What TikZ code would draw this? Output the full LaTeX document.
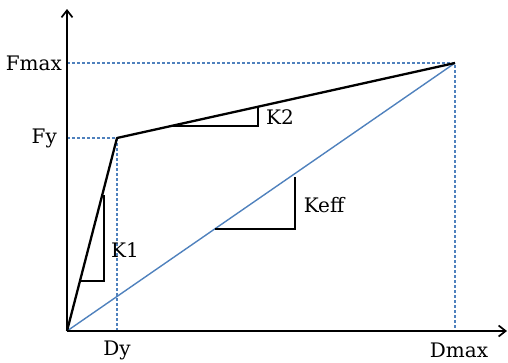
\documentclass[tikz,border=0pt]{standalone}
\usepackage{fontspec}
\setmainfont{DejaVu Serif}
\usetikzlibrary{arrows.meta, calc, positioning}
\definecolor{effblue}{RGB}{79, 129, 189}
\tikzstyle{axis} = [-{Straight Barb[length=7pt, width=11pt]}, line width=1.7pt]
\tikzstyle{curve} = [line width=2.3pt, line join=round]
\tikzstyle{secant} = [draw=effblue, line width=1.4pt]
\tikzstyle{guide} = [draw=effblue, line width=1.3pt, dash pattern=on 3pt off 2pt]
\tikzstyle{slope} = [line width=1.1pt]
\tikzstyle{lbl} = [font=\fontsize{20}{24}\selectfont, inner sep=0pt]

\begin{document}
\begin{tikzpicture}[x=1pt, y=-1pt]
    \useasboundingbox (0,0) rectangle (508,362);

    % Key points
    \coordinate (O) at (67,331);
    \coordinate (yield) at (117,138);
    \coordinate (peak) at (455,63);
    \coordinate (xend) at (507,331);
    \coordinate (yend) at (67,9);

    % Guide lines
    \draw[guide] (O |- peak) -- (peak) -- (peak |- O);
    \draw[guide] (O |- yield) -- (yield) -- (yield |- O);

    % Effective stiffness
    \draw[secant] (O) -- (peak);

    % Axes
    \draw[axis] (O) -- (xend);
    \draw[axis] (O) -- (yend);

    % Bilinear curve
    \draw[curve] (O) -- (yield) -- (peak);

    % Slope triangles
    \coordinate (k1a) at (80,281);
    \coordinate (k1b) at (104,281);
    \coordinate (k1c) at (104,195);
    \draw[slope] (k1a) -- (k1b) -- (k1c);
    \coordinate (k2a) at (171,126);
    \coordinate (k2b) at (258,126);
    \coordinate (k2c) at (258,107);
    \draw[slope] (k2a) -- (k2b) -- (k2c);
    \coordinate (kea) at (215,229);
    \coordinate (keb) at (295,229);
    \coordinate (kec) at (295,177);
    \draw[slope] (kea) -- (keb) -- (kec);

    % Labels
    \node[lbl, anchor=east] (Fmax) at (62,63) {Fmax};
    \node[lbl, anchor=east] (Fy) at (57,138) {Fy};
    \node[lbl] (Dy) at (117,350) {Dy};
    \node[lbl] (Dmax) at (459,350) {Dmax};
    \node[lbl] (K1) at (125,250) {K1};
    \node[lbl] (K2) at (280,117) {K2};
    \node[lbl] (Keff) at (324,205) {Keff};
\end{tikzpicture}
\end{document}
